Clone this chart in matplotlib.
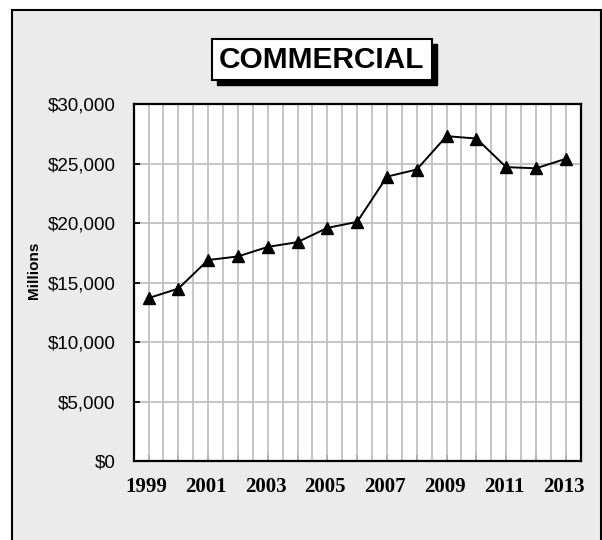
import matplotlib
matplotlib.use("Agg")
import matplotlib.pyplot as plt
from matplotlib.patches import Rectangle
from matplotlib.transforms import ScaledTranslation
from matplotlib.ticker import FixedLocator, MultipleLocator, FuncFormatter

years = [1999, 2000, 2001, 2002, 2003, 2004, 2005, 2006, 2007, 2008, 2009, 2010, 2011, 2012, 2013]
values = [13700, 14500, 16900, 17200, 18000, 18400, 19600, 20100, 23900, 24500, 27300, 27100, 24700, 24600, 25400]
title = "COMMERCIAL"
ylabel = "Millions"

W, H = 602, 540
fig = plt.figure(figsize=(W / 100, H / 100), dpi=100)
fig.patch.set_facecolor("white")

# outer frame
fig.patches.append(Rectangle((12 / W, -0.05), (600.5 - 12) / W, 1.05 - 10 / H,
                             transform=fig.transFigure, facecolor="#EBEBEB",
                             edgecolor="black", linewidth=1.5, zorder=-5))

ax = fig.add_axes([133.6 / W, 1 - 461.3 / H, (580.7 - 133.6) / W, (461.3 - 104) / H])
ax.set_zorder(1)
ax.set_facecolor("white")
ax.plot(years, values, color="black", linewidth=1.4, marker="^", markersize=9,
        markerfacecolor="black", markeredgecolor="black", zorder=3)

ax.set_xlim(1998.5, 2013.5)
ax.set_ylim(0, 30000)

ax.xaxis.remove_overlapping_locs = False
ax.xaxis.set_major_locator(FixedLocator(years))
ax.set_xticklabels([str(y) if (y - years[0]) % 2 == 0 else "" for y in years],
                   fontfamily="Liberation Serif", fontweight="bold", fontsize=15)
ax.xaxis.set_minor_locator(MultipleLocator(0.5))
ax.yaxis.set_major_locator(MultipleLocator(5000))
ax.yaxis.set_major_formatter(FuncFormatter(lambda v, p: "${:,.0f}".format(v)))

ax.grid(False)
ax.grid(True, which="minor", axis="x", color="#C0C0C0", linewidth=1.3, zorder=1)
ax.grid(True, which="major", axis="y", color="#C0C0C0", linewidth=1.3, zorder=1)
ax.set_axisbelow(True)

ax.tick_params(axis="x", which="major", direction="in", length=4, width=1.3,
               color="black", pad=11)
ax.tick_params(axis="x", which="minor", length=0)
ax.tick_params(axis="y", which="major", direction="in", length=4, width=1.3,
               color="black", pad=13, labelsize=13.5)
for lab in ax.get_yticklabels():
    lab.set_fontfamily("Liberation Sans")
shift = ScaledTranslation(-2 / 100, 0, fig.dpi_scale_trans)
for lab in ax.get_xticklabels():
    lab.set_transform(lab.get_transform() + shift)

for s in ax.spines.values():
    s.set_linewidth(1.6)
    s.set_color("black")

fig.text(34 / W, 1 - 270 / H, ylabel, rotation=90, ha="center", va="center",
         fontfamily="Liberation Sans", fontweight="bold", fontsize=11)

# title box with shadow
bx0, bx1, by0, by1 = 212, 432, 39, 80
fig.patches.append(Rectangle(((bx0 + 5) / W, 1 - (by1 + 5) / H), (bx1 - bx0) / W, (by1 - by0) / H,
                             transform=fig.transFigure, facecolor="black",
                             edgecolor="black", linewidth=1, zorder=2))
fig.patches.append(Rectangle((bx0 / W, 1 - by1 / H), (bx1 - bx0) / W, (by1 - by0) / H,
                             transform=fig.transFigure, facecolor="white",
                             edgecolor="black", linewidth=1.5, zorder=3))
fig.text((bx0 + bx1) / 2 / W, 1 - (by0 + by1) / 2 / H, title, ha="center", va="center",
         fontfamily="Liberation Sans", fontweight="bold", fontsize=21.5, zorder=4)

fig.savefig("out.png", dpi=100)
